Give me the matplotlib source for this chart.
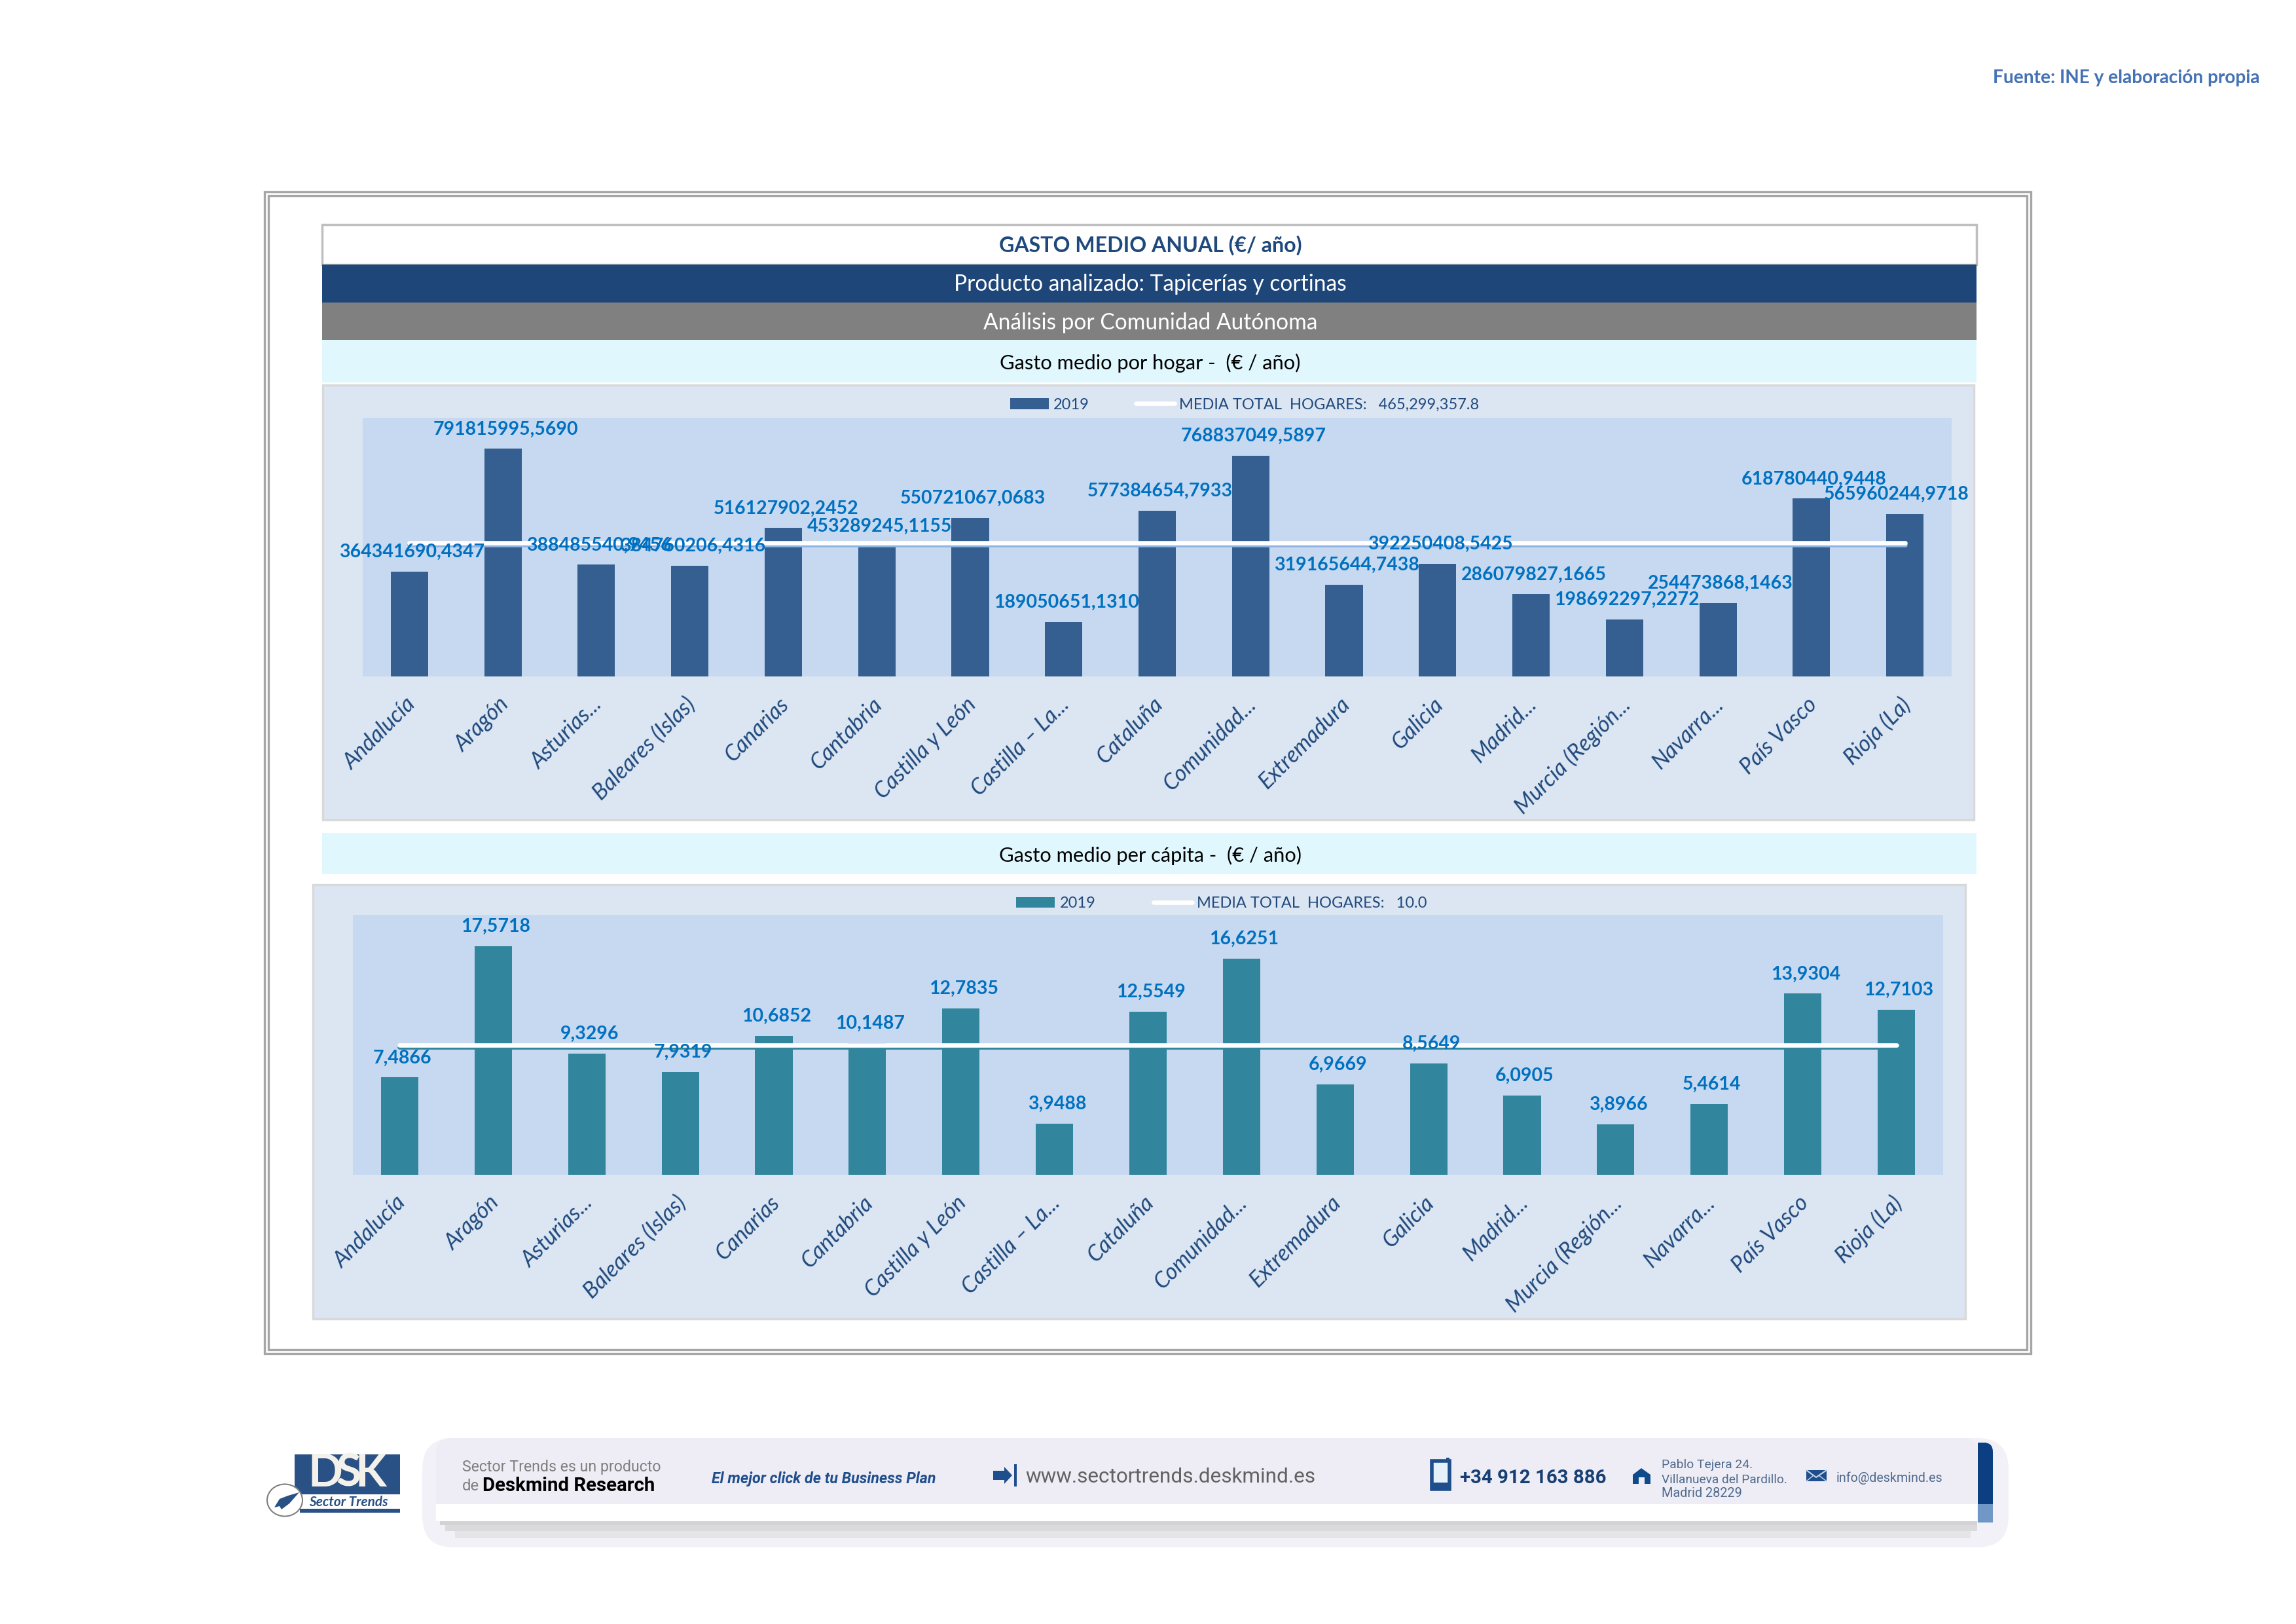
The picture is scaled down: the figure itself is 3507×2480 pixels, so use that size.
import matplotlib
matplotlib.use("Agg")
import matplotlib.pyplot as plt
import matplotlib.patheffects as pe
from matplotlib.font_manager import FontProperties
from matplotlib.lines import Line2D
from matplotlib.patches import Rectangle, FancyBboxPatch, Ellipse, Polygon
from matplotlib.textpath import TextPath
from matplotlib.transforms import ScaledTranslation

W, H = 3507, 2480

categories = ["Andalucía", "Aragón", "Asturias...", "Baleares (Islas)", "Canarias", "Cantabria",
              "Castilla y León", "Castilla – La...", "Cataluña", "Comunidad...", "Extremadura",
              "Galicia", "Madrid...", "Murcia (Región...", "Navarra...", "País Vasco", "Rioja (La)"]
hogar_labels = ["364341690,4347", "791815995,5690", "388485540,9456", "384760206,4316", "516127902,2452",
                "453289245,1155", "550721067,0683", "189050651,1310", "577384654,7933", "768837049,5897",
                "319165644,7438", "392250408,5425", "286079827,1665", "198692297,2272", "254473868,1463",
                "618780440,9448", "565960244,9718"]
hogar_values = [364341690.4347, 791815995.5690, 388485540.9456, 384760206.4316, 516127902.2452,
                453289245.1155, 550721067.0683, 189050651.1310, 577384654.7933, 768837049.5897,
                319165644.7438, 392250408.5425, 286079827.1665, 198692297.2272, 254473868.1463,
                618780440.9448, 565960244.9718]
capita_labels = ["7,4866", "17,5718", "9,3296", "7,9319", "10,6852", "10,1487", "12,7835", "3,9488", "12,5549",
                 "16,6251", "6,9669", "8,5649", "6,0905", "3,8966", "5,4614", "13,9304", "12,7103"]
capita_values = [7.4866, 17.5718, 9.3296, 7.9319, 10.6852, 10.1487, 12.7835, 3.9488, 12.5549,
                 16.6251, 6.9669, 8.5649, 6.0905, 3.8966, 5.4614, 13.9304, 12.7103]
hogar_mean = 465299357.8
capita_mean = 10.0
hogar_ymax = 900000000
capita_ymax = 20
series_name = "2019"
hogar_legend = "MEDIA TOTAL  HOGARES:   465,299,357.8"
capita_legend = "MEDIA TOTAL  HOGARES:   10.0"

NAVY = "#1F497D"
LABEL = "#0070C0"
PANEL = "#DCE6F2"
PLOT = "#C6D9F0"


def size_for(s, width_px, family="Lato", weight="normal", style="normal"):
    fp = FontProperties(family=family, weight=weight, style=style)
    tp = TextPath((0, 0), s, size=10, prop=fp)
    bb = tp.get_extents()
    return 10 * width_px / bb.width * 72 / 100


fig = plt.figure(figsize=(W / 100, H / 100), dpi=100, facecolor="white")
bg = fig.add_axes([0, 0, 1, 1], zorder=0)
bg.set_xlim(0, W)
bg.set_ylim(H, 0)
bg.axis("off")


def rect(x0, y0, x1, y1, fc, ec="none", lw=0, z=1):
    bg.add_patch(Rectangle((x0, y0), x1 - x0, y1 - y0, fc=fc, ec=ec, lw=lw, zorder=z))


def txt(x, y, s, width, color, ha="center", family="Lato", weight="normal", style="normal", z=3):
    bg.text(x, y + 3, s, color=color, ha=ha, va="center", family=family, weight=weight, style=style, zorder=z,
            fontsize=size_for(s, width, family, weight, style))


# outer double frame
rect(404, 293, 3102, 2067, "none", "#A6A6A6", 2.4)
rect(410, 299, 3096, 2061, "none", "#A6A6A6", 2.4)

# header bands
rect(492, 343, 3019, 404, "white", "#BFBFBF", 2.5)
rect(492, 404, 3019, 462, "#1F4679")
rect(492, 462, 3019, 519, "#808080")
rect(492, 519, 3019, 584, "#E0F7FE")
rect(492, 1272, 3019, 1335, "#E0F7FE")
txt(1757, 372, "GASTO MEDIO ANUAL (€/ año)", 461, NAVY, weight="bold")
txt(1757, 431, "Producto analizado: Tapicerías y cortinas", 595, "white")
txt(1757, 490, "Análisis por Comunidad Autónoma", 508, "white")
txt(1757, 551, "Gasto medio por hogar -  (€ / año)", 458, "black")
txt(1757, 1303, "Gasto medio per cápita -  (€ / año)", 460, "black")
txt(3451, 116, "Fuente: INE y elaboración propia", 405, "#4472B4", ha="right", weight="bold")

# chart panels
rect(493, 588, 3015, 1252, PANEL, "#D9D9D9", 2.5)
rect(478, 1351, 3002, 2014, PANEL, "#D9D9D9", 2.5)

label_size = size_for("516127902,2452", 219, weight="bold")
tick_size = size_for("Baleares (Islas)", 203, style="italic")
legend_size = size_for(hogar_legend, 455)


def chart(box, values, labels, mean, ymax, bar_color, shadow, legend_txt, legend_xy, last_dx, col_space):
    x0, y0, x1, y1 = box
    ax = fig.add_axes([x0 / W, 1 - y1 / H, (x1 - x0) / W, (y1 - y0) / H], zorder=2, facecolor=PLOT)
    xs = list(range(len(categories)))
    bars = ax.bar(xs, values, width=0.4, color=bar_color, zorder=2)
    ax.plot(xs, [mean] * len(xs), color="white", lw=4.8, solid_capstyle="round", zorder=3,
            path_effects=[pe.SimpleLineShadow(offset=(0, -2.4), shadow_color=shadow, alpha=1), pe.Normal()])
    ax.set_xlim(-0.5, len(xs) - 0.5)
    ax.set_ylim(0, ymax)
    ax.set_yticks([])
    ax.set_xticks(xs)
    ax.set_xticklabels(categories, rotation=45, ha="right", va="top", rotation_mode="anchor",
                       fontsize=tick_size, style="italic", family="Lato", color=NAVY)
    ax.tick_params(axis="x", length=0, pad=19)
    nudge = ScaledTranslation(-8 / 100, 0, fig.dpi_scale_trans)
    for t in ax.get_xticklabels():
        t.set_transform(t.get_transform() + nudge)
    for s in ax.spines.values():
        s.set_visible(False)
    for i, (v, lab) in enumerate(zip(values, labels)):
        dx = last_dx if i == len(xs) - 1 else 4
        ax.annotate(lab, (i, v), xytext=(dx, 22), textcoords="offset pixels", ha="center", va="baseline",
                    fontsize=label_size, weight="bold", family="Lato", color=LABEL, zorder=5,
                    annotation_clip=False)
    line = Line2D([0], [0], color="white", lw=4.8, solid_capstyle="round")
    ax.legend([bars, line], [series_name, legend_txt], ncol=2, frameon=False, loc="center",
              bbox_to_anchor=(legend_xy[0] / W, 1 - legend_xy[1] / H), bbox_transform=fig.transFigure,
              prop=FontProperties(family="Lato", size=legend_size), labelcolor=NAVY, borderpad=0,
              handlelength=2.5, handletextpad=0.3, columnspacing=col_space)
    return ax


chart((554, 638, 2981, 1033), hogar_values, hogar_labels, hogar_mean, hogar_ymax, "#355F91", "#8DB3E2",
      hogar_legend, (1901, 618), -13, 3.0)
chart((539, 1397, 2968, 1794), capita_values, capita_labels, capita_mean, capita_ymax, "#31859C", "#31859C",
      capita_legend, (1866, 1380), 4, 3.75)

# footer banner
bg.add_patch(FancyBboxPatch((645, 2196), 2423, 167, boxstyle="round,pad=0,rounding_size=48", fc="#F2F1F8", ec="none",
                            zorder=1))
bg.add_patch(FancyBboxPatch((666, 2196), 2354, 130, boxstyle="round,pad=0,rounding_size=22", fc="#EEEDF6", ec="none",
                            zorder=2))
rect(666, 2297, 3020, 2323, "white", z=2)
rect(672, 2323, 3020, 2329, "#D3D3D5", z=2)
rect(680, 2329, 3020, 2338, "#DADADC", z=2)
rect(695, 2338, 3010, 2349, "#E6E4E6", z=2)
bg.add_patch(FancyBboxPatch((3021, 2203), 23, 94, boxstyle="round,pad=0,rounding_size=14", fc="#0B3F82", ec="none", zorder=3))
rect(3021, 2203, 3034, 2297, "#0B3F82", z=3)
rect(3021, 2270, 3044, 2297, "#0B3F82", z=3)
rect(3021, 2297, 3044, 2325, "#7097C6", z=3)

# logo
rect(450, 2221, 611, 2282, "#2A5186", z=2)
rect(458, 2304, 611, 2310, "#2A5186", z=2)
for letter, lx in zip("DSK", (497, 532, 566)):
    bg.text(lx, 2250, letter, color="#F4F1EA", ha="center", va="center", family="Lato", weight="bold", fontsize=50, zorder=3)
txt(532, 2291, "Sector Trends", 120, "#2A5186", weight="bold", style="italic", family="Lato")
bg.add_patch(Ellipse((435, 2291), 54, 49, fc="white", ec="#7F7F7F", lw=1.5, zorder=4))
bg.add_patch(Polygon([[457, 2279], [440, 2284], [427, 2289], [419, 2302], [427, 2300], [430, 2305], [442, 2296]],
                     closed=True, fc="#2A5186", ec="none", zorder=5))

# footer text
F = "Roboto"
txt(706, 2238, "Sector Trends es un producto", 301, "#7F7F7F", ha="left", family=F)
txt(706, 2266, "de", 24, "#7F7F7F", ha="left", family=F)
txt(737, 2266, "Deskmind Research", 260, "black", ha="left", family=F, weight="bold")
txt(1087, 2255, "El mejor click de tu Business Plan", 342, "#1F4E8C", ha="left", family=F, weight="bold", style="italic")
txt(1566, 2253, "www.sectortrends.deskmind.es", 442, "#616161", ha="left", family=F)
txt(2230, 2254, "+34 912 163 886", 222, "#173F73", ha="left", family=F, weight="bold")
txt(2538, 2234, "Pablo Tejera 24.", 136, "#4F6A8C", ha="left", family=F)
txt(2538, 2257, "Villanueva del Pardillo.", 190, "#4F6A8C", ha="left", family=F)
txt(2538, 2278, "Madrid 28229", 120, "#4F6A8C", ha="left", family=F)
txt(2805, 2254, "info@deskmind.es", 160, "#4F6A8C", ha="left", family=F)

# footer icons
bg.add_patch(Polygon([[1517, 2246], [1534, 2246], [1534, 2240], [1546, 2253], [1534, 2266], [1534, 2260], [1517, 2260]],
                     closed=True, fc="#1F4E8C", ec="none", zorder=4))
rect(1549, 2236, 1553, 2270, "#1F4E8C", z=4)
rect(2187, 2231, 2214, 2274, "#E4F1FB", "#1F4E8C", 4, z=4)
rect(2187, 2264, 2214, 2274, "#1F4E8C", z=5)
rect(2209, 2226, 2214, 2232, "#1F4E8C", z=5)
bg.add_patch(Polygon([[2494, 2252], [2507, 2242], [2521, 2252], [2521, 2266], [2512, 2266], [2512, 2256], [2503, 2256],
                      [2503, 2266], [2494, 2266]], closed=True, fc="#0E4A8C", ec="none", zorder=4))
rect(2759, 2245, 2790, 2262, "#1F4E8C", z=4)
bg.plot([2759, 2774, 2790], [2245, 2256, 2245], color="#C9D6E8", lw=1.5, zorder=5)
bg.plot([2759, 2770], [2262, 2253], color="#C9D6E8", lw=1, zorder=5)
bg.plot([2790, 2778], [2262, 2253], color="#C9D6E8", lw=1, zorder=5)

fig.savefig("out.png", dpi=100)
